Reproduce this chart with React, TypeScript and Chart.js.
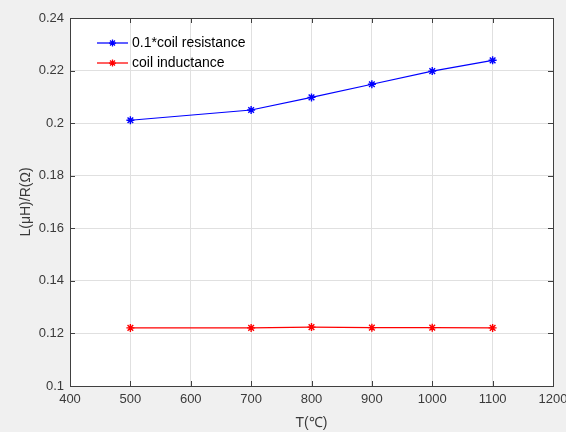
import React, { useEffect, useRef } from "react";
import { Chart, registerables } from "chart.js";

Chart.register(...registerables);

const temperatures = [500, 700, 800, 900, 1000, 1100];
const resistanceScaled = [0.2011, 0.205, 0.2098, 0.2148, 0.2198, 0.2239];
const inductance = [0.1221, 0.1221, 0.1224, 0.1222, 0.1222, 0.1221];
const seriesNames = ["0.1*coil resistance", "coil inductance"];
const seriesColors = ["#0000ff", "#ff0000"];
const xTitle = "T(\u2103)";
const yTitle = "L(\u03bcH)/R(\u03a9)";

const FONT = "Arial, 'Liberation Sans', Helvetica, sans-serif";
const TEXT = "#3a3a3a";

function drawStar(ctx: CanvasRenderingContext2D, x: number, y: number, r: number) {
  ctx.beginPath();
  for (let k = 0; k < 4; k++) {
    const a = (k * Math.PI) / 4;
    ctx.moveTo(x - r * Math.cos(a), y - r * Math.sin(a));
    ctx.lineTo(x + r * Math.cos(a), y + r * Math.sin(a));
  }
  ctx.stroke();
}

const framePlugin = {
  id: "frame",
  beforeDraw(chart: any) {
    const { ctx, chartArea } = chart;
    ctx.save();
    ctx.fillStyle = "#f0f0f0";
    ctx.fillRect(0, 0, chart.width, chart.height);
    ctx.fillStyle = "#ffffff";
    ctx.fillRect(chartArea.left, chartArea.top, chartArea.right - chartArea.left, chartArea.bottom - chartArea.top);
    ctx.restore();
  },
  afterDraw(chart: any) {
    const { ctx, chartArea } = chart;
    const { left, right, top, bottom } = chartArea;
    ctx.save();
    ctx.strokeStyle = "#404040";
    ctx.lineWidth = 1;
    const xs = chart.scales.x;
    const ys = chart.scales.y;
    ctx.beginPath();
    xs.ticks.forEach((t: any) => {
      const px = Math.round(xs.getPixelForValue(t.value)) + 0.5;
      ctx.moveTo(px, bottom);
      ctx.lineTo(px, bottom - 5);
      ctx.moveTo(px, top);
      ctx.lineTo(px, top + 5);
    });
    ys.ticks.forEach((t: any) => {
      const py = Math.round(ys.getPixelForValue(t.value)) + 0.5;
      ctx.moveTo(left, py);
      ctx.lineTo(left + 5, py);
      ctx.moveTo(right, py);
      ctx.lineTo(right - 5, py);
    });
    ctx.stroke();
    ctx.strokeRect(Math.round(left) + 0.5, Math.round(top) + 0.5, Math.round(right - left), Math.round(bottom - top));

    // legend inside the axes
    const lx0 = 97;
    const lx1 = 128;
    const ly = [43, 63];
    ctx.font = "14px " + FONT;
    ctx.textBaseline = "middle";
    ctx.textAlign = "left";
    seriesNames.forEach((name, i) => {
      ctx.strokeStyle = seriesColors[i];
      ctx.lineWidth = 1.25;
      ctx.beginPath();
      ctx.moveTo(lx0, ly[i]);
      ctx.lineTo(lx1, ly[i]);
      ctx.stroke();
      drawStar(ctx, (lx0 + lx1) / 2, ly[i], 3.5);
      ctx.fillStyle = "#000000";
      ctx.fillText(name, 132, ly[i] + 0.5);
    });
    ctx.restore();
  },
};

export default function App() {
  const canvasRef = useRef<HTMLCanvasElement | null>(null);

  useEffect(() => {
    document.body.style.margin = "0";
    const canvas = canvasRef.current;
    if (!canvas) return;
    const chart = new Chart(canvas, {
      type: "line",
      data: {
        datasets: [
          {
            label: seriesNames[0],
            data: temperatures.map((t, i) => ({ x: t, y: resistanceScaled[i] })),
            borderColor: seriesColors[0],
            backgroundColor: seriesColors[0],
            borderWidth: 1.25,
            pointStyle: "star",
            pointRadius: 4,
            pointBorderWidth: 1.4,
            pointBorderColor: seriesColors[0],
            tension: 0,
          },
          {
            label: seriesNames[1],
            data: temperatures.map((t, i) => ({ x: t, y: inductance[i] })),
            borderColor: seriesColors[1],
            backgroundColor: seriesColors[1],
            borderWidth: 1.25,
            pointStyle: "star",
            pointRadius: 4,
            pointBorderWidth: 1.4,
            pointBorderColor: seriesColors[1],
            tension: 0,
          },
        ],
      },
      options: {
        animation: false,
        responsive: false,
        layout: { padding: { left: 0, top: 18, right: 13, bottom: 0 } },
        plugins: {
          legend: { display: false },
          tooltip: { enabled: false },
        },
        scales: {
          x: {
            type: "linear",
            min: 400,
            max: 1200,
            afterFit: (s: any) => {
              s.height = 46;
              s.paddingLeft = 0;
              s.paddingRight = 0;
            },
            ticks: {
              stepSize: 100,
              padding: 6,
              color: TEXT,
              font: { family: FONT, size: 13 },
              maxRotation: 0,
              autoSkip: false,
              callback: (v: any) => String(Math.round(Number(v))),
            },
            grid: { color: "#e0e0e0", drawTicks: false, lineWidth: 1 },
            border: { display: false },
            title: {
              display: true,
              text: xTitle,
              color: TEXT,
              font: { family: FONT, size: 14 },
              padding: { top: 0, bottom: 0 },
            },
          },
          y: {
            type: "linear",
            min: 0.1,
            max: 0.24,
            afterFit: (s: any) => {
              s.width = 70;
              s.paddingTop = 0;
              s.paddingBottom = 0;
            },
            ticks: {
              stepSize: 0.02,
              padding: 6,
              color: TEXT,
              font: { family: FONT, size: 13 },
              callback: (v: any) => String(Math.round(Number(v) * 100) / 100),
            },
            grid: { color: "#e0e0e0", drawTicks: false, lineWidth: 1 },
            border: { display: false },
            title: {
              display: true,
              text: yTitle,
              color: TEXT,
              font: { family: FONT, size: 14 },
              padding: { top: 17.5, bottom: 0 },
            },
          },
        },
      },
      plugins: [framePlugin],
    });
    return () => chart.destroy();
  }, []);

  return (
    <div style={{ position: "fixed", left: 0, top: 0, width: 566, height: 432 }}>
      <canvas ref={canvasRef} width={566} height={432} />
    </div>
  );
}
